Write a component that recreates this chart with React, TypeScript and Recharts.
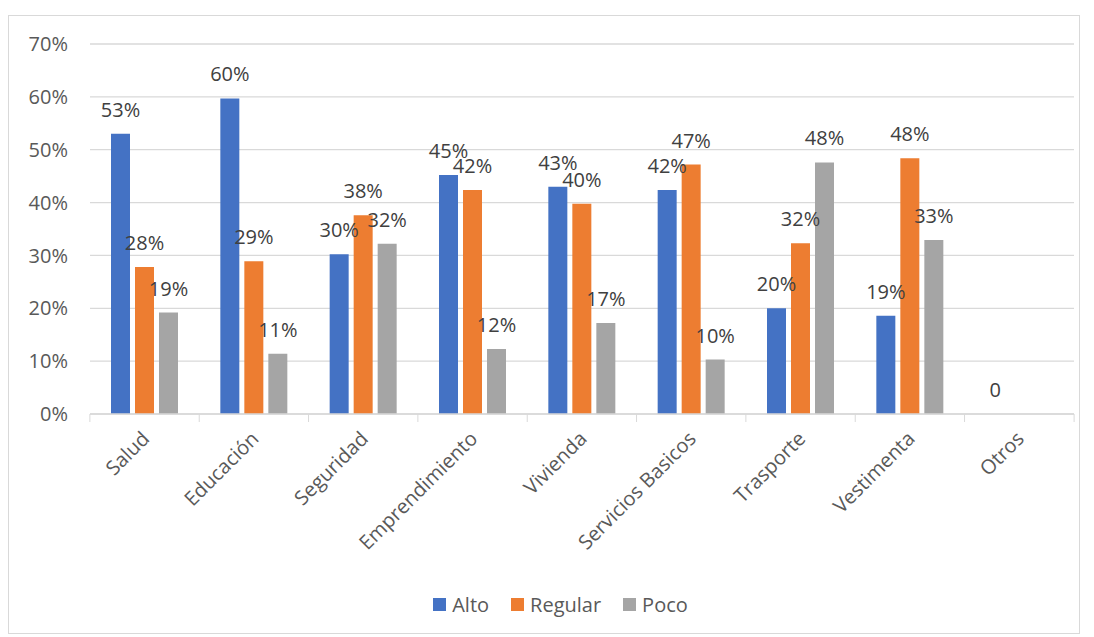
import { BarChart, Bar, XAxis, YAxis, CartesianGrid, Legend, LabelList } from "recharts";

const categories = [
  "Salud",
  "Educación",
  "Seguridad",
  "Emprendimiento",
  "Vivienda",
  "Servicios Basicos",
  "Trasporte",
  "Vestimenta",
  "Otros",
];
const alto = [0.53, 0.597, 0.302, 0.452, 0.43, 0.424, 0.2, 0.186, 0];
const regular = [0.278, 0.289, 0.376, 0.424, 0.398, 0.472, 0.323, 0.484, null];
const poco = [0.192, 0.114, 0.322, 0.123, 0.172, 0.103, 0.476, 0.329, null];
const yTicks = [0, 0.1, 0.2, 0.3, 0.4, 0.5, 0.6, 0.7];

const series = [
  { key: "alto", name: "Alto", color: "#4472C4" },
  { key: "regular", name: "Regular", color: "#ED7D31" },
  { key: "poco", name: "Poco", color: "#A5A5A5" },
];

const data = categories.map((name, i) => ({
  name,
  alto: alto[i],
  regular: regular[i],
  poco: poco[i],
}));

const FONT = "'Open Sans', sans-serif";
const FS = 20;
const W = 1072;
const H = 619;
const LEFT = 81;
const RIGHT = 5;
const band = (W - LEFT - RIGHT) / categories.length;

const pct = (v: any) => {
  if (v === null || v === undefined) return "";
  if (v === 0) return "0";
  return `${Math.round(v * 100)}%`;
};

// Excel-style data label, centred over the bar
const BarLabel = (props: any) => {
  const { x, y, width, value } = props;
  const txt = pct(value);
  if (!txt) return null;
  return (
    <text
      x={x + width / 2}
      y={y - 17}
      textAnchor="middle"
      fill="#404040"
      fontSize={FS}
      fontFamily={FONT}
    >
      {txt}
    </text>
  );
};

const CategoryTick = (props: any) => {
  const { x, y, payload, index } = props;
  const last = index === categories.length - 1;
  return (
    <g>
      <line x1={x - band / 2} y1={y} x2={x - band / 2} y2={y + 8} stroke="#d9d9d9" />
      {last && <line x1={x + band / 2} y1={y} x2={x + band / 2} y2={y + 8} stroke="#d9d9d9" />}
      <text
        transform={`translate(${x + 6}, ${y + 26}) rotate(-45)`}
        textAnchor="end"
        fill="#595959"
        fontSize={FS}
        fontFamily={FONT}
      >
        {payload.value}
      </text>
    </g>
  );
};

const LegendBox = () => (
  <div
    style={{
      display: "flex",
      justifyContent: "center",
      alignItems: "center",
      height: 24,
      paddingLeft: 60,
      fontFamily: FONT,
      fontSize: FS,
      color: "#595959",
    }}
  >
    {series.map((s) => (
      <div key={s.key} style={{ display: "flex", alignItems: "center", marginRight: 22 }}>
        <span style={{ width: 13, height: 13, background: s.color, marginRight: 6 }} />
        <span>{s.name}</span>
      </div>
    ))}
  </div>
);

export default function App() {
  return (
    <div
      style={{
        width: W,
        height: H,
        marginTop: 7,
        border: "1px solid #d9d9d9",
        boxSizing: "border-box",
        background: "#fff",
      }}
    >
      <BarChart
        width={W - 2}
        height={H - 2}
        data={data}
        margin={{ top: 28, right: RIGHT, left: 0, bottom: 17 }}
        barGap={5}
        barSize={19}
      >
        <CartesianGrid vertical={false} stroke="#d9d9d9" strokeWidth={1.3} />
        <XAxis
          dataKey="name"
          axisLine={{ stroke: "#d9d9d9", strokeWidth: 1.3 }}
          tickLine={false}
          tickSize={0}
          tickMargin={0}
          interval={0}
          height={178}
          tick={<CategoryTick />}
        />
        <YAxis
          domain={[0, 0.7]}
          ticks={yTicks}
          width={LEFT}
          axisLine={false}
          tickLine={false}
          tickSize={0}
          tickMargin={22}
          tickFormatter={(v: number) => `${Math.round(v * 100)}%`}
          tick={{ fill: "#595959", fontSize: FS, fontFamily: FONT }}
        />
        <Legend verticalAlign="bottom" content={<LegendBox />} />
        {series.map((s) => (
          <Bar
            key={s.key}
            dataKey={s.key}
            name={s.name}
            fill={s.color}
            minPointSize={0.01}
            isAnimationActive={false}
          >
            <LabelList dataKey={s.key} content={<BarLabel />} />
          </Bar>
        ))}
      </BarChart>
    </div>
  );
}
